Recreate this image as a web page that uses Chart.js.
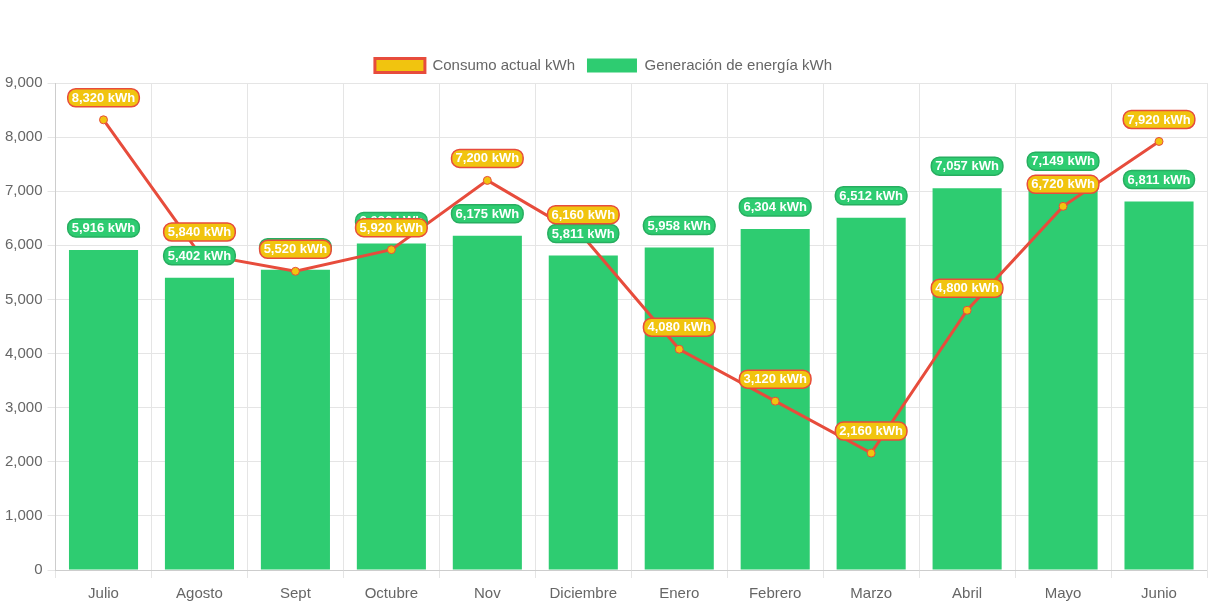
<!DOCTYPE html>
<html>
<head>
<meta charset="utf-8">
<script src="https://cdn.jsdelivr.net/npm/chart.js@4.4.0/dist/chart.umd.min.js"></script>
<style>
html,body{margin:0;padding:0;background:#fff;}
#wrap{width:1213px;height:606px;position:relative;}
</style>
</head>
<body>
<div id="wrap"><canvas id="c"></canvas></div>
<script>
const categories = ["Julio","Agosto","Sept","Octubre","Nov","Diciembre","Enero","Febrero","Marzo","Abril","Mayo","Junio"];
const consumo = [8320,5840,5520,5920,7200,6160,4080,3120,2160,4800,6720,7920];
const generacion = [5916,5402,5550,6036,6175,5811,5958,6304,6512,7057,7149,6811];
const yTicksMax = 9000;
const yTicksStep = 1000;

const fmt = v => v.toLocaleString('en-US') + ' kWh';

function roundRect(ctx, x, y, w, h, r) {
  ctx.beginPath();
  ctx.moveTo(x + r, y);
  ctx.lineTo(x + w - r, y);
  ctx.arcTo(x + w, y, x + w, y + r, r);
  ctx.lineTo(x + w, y + h - r);
  ctx.arcTo(x + w, y + h, x + w - r, y + h, r);
  ctx.lineTo(x + r, y + h);
  ctx.arcTo(x, y + h, x, y + h - r, r);
  ctx.lineTo(x, y + r);
  ctx.arcTo(x, y, x + r, y, r);
  ctx.closePath();
}

const labelPlugin = {
  id: 'valueLabels',
  afterDatasetsDraw(chart) {
    const ctx = chart.ctx;
    ctx.save();
    ctx.font = 'bold 13px "Liberation Sans", Arial, sans-serif';
    ctx.textAlign = 'center';
    ctx.textBaseline = 'middle';
    const order = [1, 0];
    order.forEach(di => {
      const ds = chart.data.datasets[di];
      const meta = chart.getDatasetMeta(di);
      meta.data.forEach((el, i) => {
        const txt = fmt(ds.data[i]);
        const tw = ctx.measureText(txt).width;
        const w = tw + 8, h = 18;
        const cx = el.x;
        const cy = el.y - 22;
        roundRect(ctx, cx - w / 2, cy - h / 2, w, h, 8);
        ctx.fillStyle = ds.labelBg;
        ctx.fill();
        ctx.lineWidth = 1.5;
        ctx.strokeStyle = ds.labelBorder;
        ctx.stroke();
        ctx.fillStyle = '#ffffff';
        ctx.fillText(txt, cx, cy + 0.5);
      });
    });
    ctx.restore();
  }
};

Chart.defaults.font.family = '"Liberation Sans", Arial, sans-serif';
Chart.defaults.color = '#666';

new Chart(document.getElementById('c'), {
  type: 'bar',
  data: {
    labels: categories,
    datasets: [
      {
        type: 'line',
        label: 'Consumo actual kWh',
        data: consumo,
        borderColor: '#e74c3c',
        backgroundColor: '#f1c40f',
        borderWidth: 3,
        pointRadius: 4,
        pointBorderWidth: 1,
        pointBackgroundColor: '#f1c40f',
        pointBorderColor: '#e74c3c',
        tension: 0,
        fill: false,
        order: 0,
        labelBg: '#f1c40f',
        labelBorder: '#e74c3c'
      },
      {
        type: 'bar',
        label: 'Generación de energía kWh',
        data: generacion,
        backgroundColor: '#2ecc71',
        borderColor: '#2ecc71',
        borderWidth: 0,
        order: 1,
        labelBg: '#2ecc71',
        labelBorder: '#27ae60'
      }
    ]
  },
  options: {
    responsive: true,
    maintainAspectRatio: false,
    animation: false,
    layout: { padding: { top: 46, right: 6, left: 0, bottom: -4 } },
    plugins: {
      legend: {
        position: 'top',
        labels: {
          boxWidth: 50,
          boxHeight: 14,
          padding: 12,
          font: { size: 15 },
          color: '#666',
          generateLabels(chart) {
            return chart.data.datasets.map((ds, i) => ({
              text: ds.label,
              fillStyle: ds.type === 'line' ? '#f1c40f' : '#2ecc71',
              strokeStyle: ds.type === 'line' ? '#e74c3c' : '#2ecc71',
              lineWidth: ds.type === 'line' ? 3 : 0,
              hidden: !chart.isDatasetVisible(i),
              datasetIndex: i,
              fontColor: '#666'
            }));
          }
        }
      },
      tooltip: { enabled: false }
    },
    scales: {
      x: {
        grid: { color: '#e5e5e5', offset: true },
        ticks: { font: { size: 15 }, color: '#666', padding: 7 }
      },
      y: {
        beginAtZero: true,
        max: yTicksMax,
        grid: { color: '#e5e5e5' },
        ticks: {
          stepSize: yTicksStep,
          font: { size: 15 },
          color: '#666',
          padding: 5,
          callback: v => v.toLocaleString('en-US')
        }
      }
    }
  },
  plugins: [labelPlugin]
});
</script>
</body>
</html>
